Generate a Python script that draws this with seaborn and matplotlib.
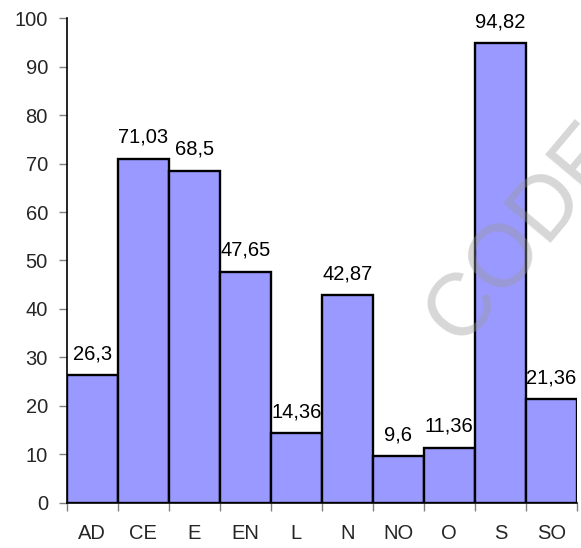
import matplotlib
matplotlib.use("Agg")
import matplotlib.pyplot as plt
import seaborn as sns
import pandas as pd
import numpy as np
from matplotlib.ticker import FixedLocator

regions = ["AD", "CE", "E", "EN", "L", "N", "NO", "O", "S", "SO"]
values = [26.3, 71.03, 68.5, 47.65, 14.36, 42.87, 9.6, 11.36, 94.82, 21.36]
value_labels = ["26,3", "71,03", "68,5", "47,65", "14,36", "42,87", "9,6", "11,36", "94,82", "21,36"]
y_ticks = [0, 10, 20, 30, 40, 50, 60, 70, 80, 90, 100]

sns.set_theme(style="white")
plt.rcParams["font.family"] = ["Liberation Sans", "DejaVu Sans"]

FS = 14.5

df = pd.DataFrame({"region": regions, "value": values})

fig = plt.figure(figsize=(5.81, 5.48), dpi=100)
ax = fig.add_axes([0.1148, 0.0827, 0.993 - 0.1148, 0.9666 - 0.0827])

sns.barplot(data=df, x="region", y="value", ax=ax, color="#9999FF",
            saturation=1, width=1.0, edgecolor="black", linewidth=1.7)

for patch, lab in zip(ax.patches, value_labels):
    ax.annotate(lab, (patch.get_x() + patch.get_width() / 2, patch.get_height()),
                xytext=(0, 8.6), textcoords="offset points",
                ha="center", va="bottom", fontsize=FS, color="black")

ax.set_xlim(-0.5, len(regions) - 0.5)
ax.set_ylim(0, 100)
ax.set_yticks(y_ticks)
ax.set_yticklabels([str(t) for t in y_ticks], fontsize=FS)
ax.set_xticks(range(len(regions)))
ax.set_xticklabels(regions, fontsize=FS)
ax.xaxis.set_minor_locator(FixedLocator(np.arange(-0.5, len(regions), 1.0)))
ax.tick_params(axis="x", which="major", length=0, pad=15.5)
ax.tick_params(axis="x", which="minor", length=5.5, width=1, color="#808080", direction="out", bottom=True)
ax.tick_params(axis="y", which="major", length=5.5, width=1, color="#808080", direction="out", left=True, pad=8)
ax.set_xlabel("")
ax.set_ylabel("")

for side in ["top", "right"]:
    ax.spines[side].set_visible(False)
for side in ["left", "bottom"]:
    ax.spines[side].set_color("black")
    ax.spines[side].set_linewidth(1.2)

# faint diagonal watermark
fig.text(0.705, 0.345, "CODE", fontsize=64, color="#9a9a9a", alpha=0.4,
         rotation=50, ha="left", va="bottom")

fig.savefig("out.png", dpi=100)
